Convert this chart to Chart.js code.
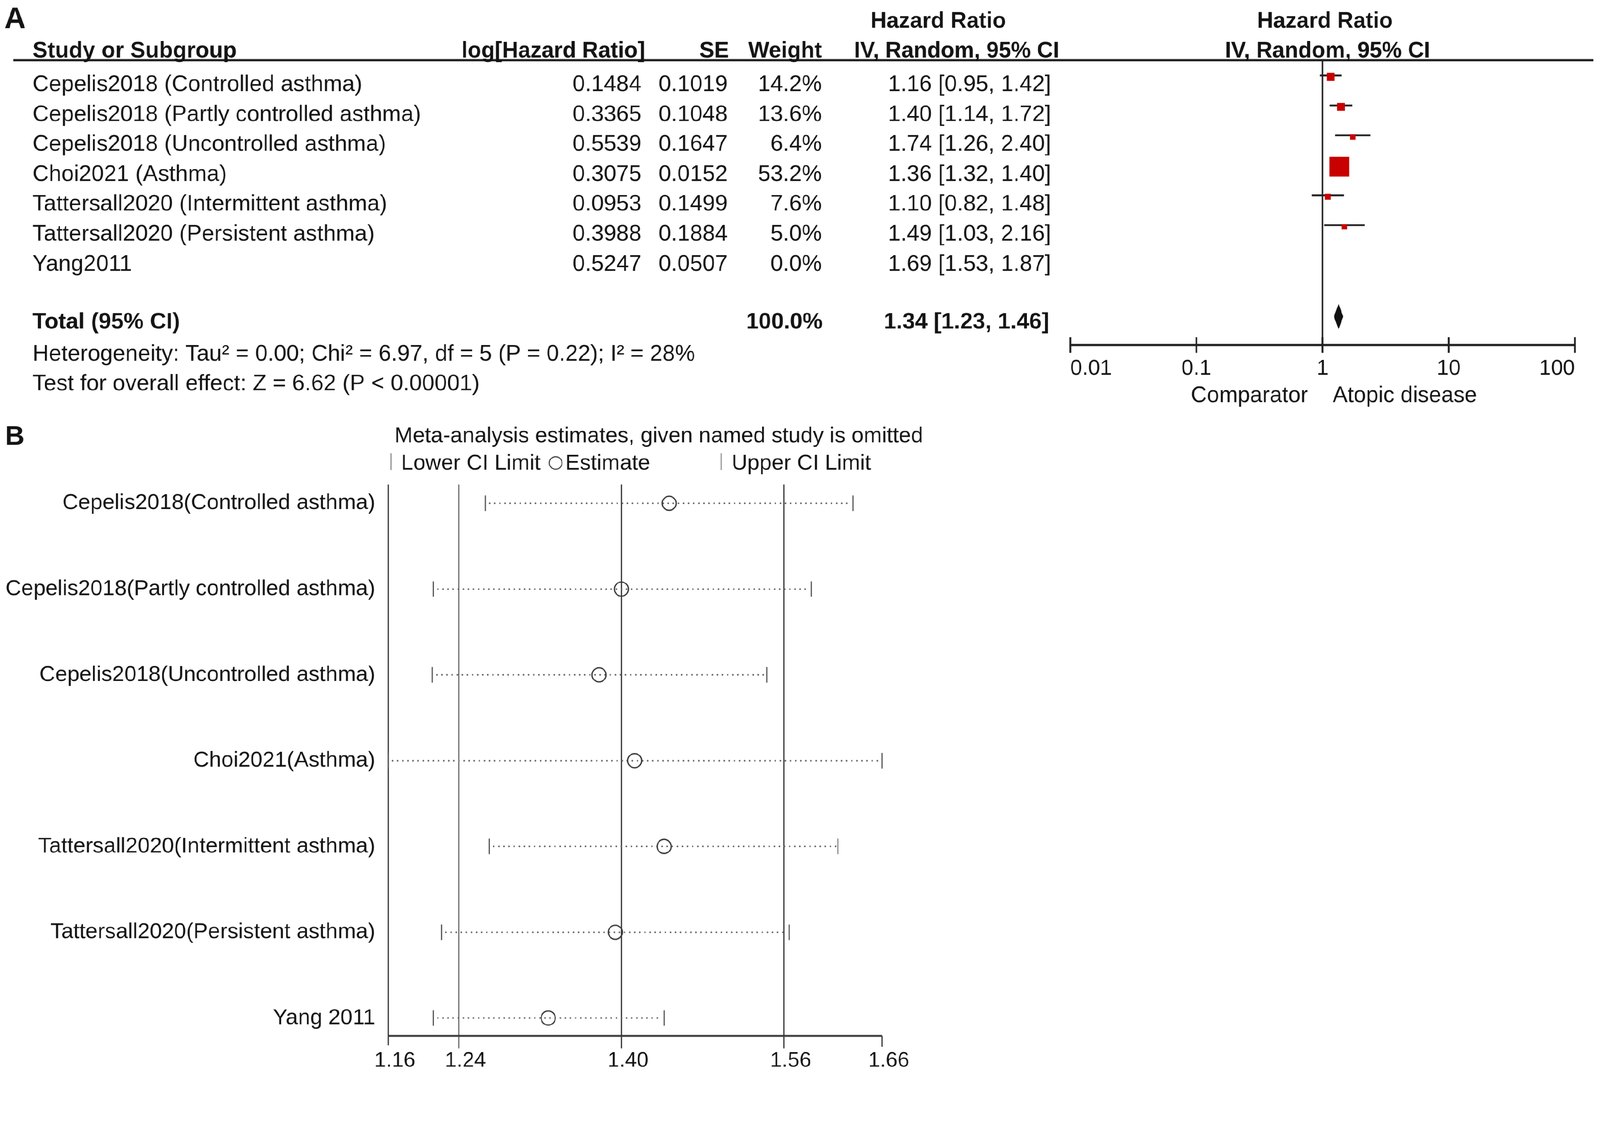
<!DOCTYPE html>
<html>
<head>
<meta charset="utf-8">
<script src="https://cdn.jsdelivr.net/npm/chart.js@4.4.1/dist/chart.umd.min.js"></script>
<style>
  html, body { margin: 0; padding: 0; background: #fff; overflow: hidden; }
  #page { position: absolute; left: 0; top: 0; width: 4328px; height: 2905px; transform-origin: 0 0; }
  #wrapA { position: absolute; left: 0; top: 0; width: 4328px; height: 1100px; }
  #wrapB { position: absolute; left: 0; top: 1100px; width: 4328px; height: 1805px; }
</style>
</head>
<body>
<div id="page">
  <div id="wrapA"><canvas id="forestChart" width="4328" height="1100"></canvas></div>
  <div id="wrapB"><canvas id="influenceChart" width="4328" height="1805"></canvas></div>
</div>
<script>
// ---- Panel A : forest plot ----
const studies = [
  "Cepelis2018 (Controlled asthma)",
  "Cepelis2018 (Partly controlled asthma)",
  "Cepelis2018 (Uncontrolled asthma)",
  "Choi2021 (Asthma)",
  "Tattersall2020 (Intermittent asthma)",
  "Tattersall2020 (Persistent asthma)",
  "Yang2011"
];
const logHR   = [0.1484, 0.3365, 0.5539, 0.3075, 0.0953, 0.3988, 0.5247];
const seLog   = [0.1019, 0.1048, 0.1647, 0.0152, 0.1499, 0.1884, 0.0507];
const weights = [14.2, 13.6, 6.4, 53.2, 7.6, 5.0, 0.0];
const hr      = [1.16, 1.40, 1.74, 1.36, 1.10, 1.49, 1.69];
const hrLow   = [0.95, 1.14, 1.26, 1.32, 0.82, 1.03, 1.53];
const hrHigh  = [1.42, 1.72, 2.40, 1.40, 1.48, 2.16, 1.87];
const totalHR = 1.34, totalLow = 1.23, totalHigh = 1.46, totalWeight = 100.0;
const tickValsA   = [0.01, 0.1, 1, 10, 100];
const tickLabelsA = ["0.01", "0.1", "1", "10", "100"];

// ---- Panel B : leave-one-out ----
const studiesB = [
  "Cepelis2018(Controlled asthma)",
  "Cepelis2018(Partly controlled asthma)",
  "Cepelis2018(Uncontrolled asthma)",
  "Choi2021(Asthma)",
  "Tattersall2020(Intermittent asthma)",
  "Tattersall2020(Persistent asthma)",
  "Yang 2011"
];
const estB   = [1.447, 1.400, 1.378, 1.413, 1.442, 1.394, 1.328];
const lowerB = [1.266, 1.215, 1.214, 1.1705, 1.270, 1.223, 1.215];
const upperB = [1.628, 1.587, 1.543, 1.6565, 1.613, 1.565, 1.442];
const tickValsB   = [1.1705, 1.24, 1.40, 1.56, 1.6565];
const tickLabelsB = ["1.16", "1.24", "1.40", "1.56", "1.66"];

const FONT = '"Liberation Sans", Arial, sans-serif';
const INK = '#141414';

// fit the 4328x2905 layout into whatever the viewport really is
const fit = Math.min(window.innerWidth / 4328, window.innerHeight / 2905);
document.getElementById('page').style.transform = 'scale(' + fit + ')';
const DPR = (window.devicePixelRatio || 1) * fit;

function txt(ctx, s, x, y, align, size, bold) {
  ctx.save();
  ctx.font = (bold ? 'bold ' : '') + size + 'px ' + FONT;
  ctx.fillStyle = INK;
  ctx.textAlign = align;
  ctx.textBaseline = 'alphabetic';
  ctx.fillText(s, x, y);
  ctx.restore();
}
function seg(ctx, x1, y1, x2, y2, w, color) {
  ctx.beginPath();
  ctx.lineWidth = w;
  ctx.strokeStyle = color;
  ctx.moveTo(x1, y1);
  ctx.lineTo(x2, y2);
  ctx.stroke();
}

const forestDecor = {
  id: 'forestDecor',
  beforeDatasetsDraw(chart) {
    const { ctx, chartArea, scales: { x, y } } = chart;
    ctx.save();
    // header rule
    seg(ctx, 36, chartArea.top, 4310, chartArea.top, 6, '#222');
    // line of no effect
    seg(ctx, x.getPixelForValue(1), chartArea.top, x.getPixelForValue(1), chartArea.bottom, 4, '#222');
    // confidence intervals
    studies.forEach((s, i) => {
      if (weights[i] <= 0) return;
      const py = y.getPixelForValue(i) - 4;
      seg(ctx, x.getPixelForValue(hrLow[i]), py, x.getPixelForValue(hrHigh[i]), py, 5, '#222');
    });
    // pooled diamond
    const dy = y.getPixelForValue(8);
    ctx.beginPath();
    ctx.moveTo(x.getPixelForValue(totalLow), dy);
    ctx.lineTo(x.getPixelForValue(totalHR), dy - 34);
    ctx.lineTo(x.getPixelForValue(totalHigh), dy);
    ctx.lineTo(x.getPixelForValue(totalHR), dy + 34);
    ctx.closePath();
    ctx.fillStyle = '#111';
    ctx.fill();
    // axis with ticks
    const ab = chartArea.bottom;
    seg(ctx, x.getPixelForValue(tickValsA[0]), ab, x.getPixelForValue(tickValsA[tickValsA.length - 1]), ab, 6, '#222');
    tickValsA.forEach(v => {
      const px = x.getPixelForValue(v);
      seg(ctx, px, ab - 21, px, ab + 21, 5, '#222');
    });
    ctx.restore();
  },
  afterDraw(chart) {
    const { ctx, scales: { y } } = chart;
    txt(ctx, 'A', 12, 76, 'left', 80, true);
    txt(ctx, 'Hazard Ratio', 2538, 75, 'center', 60, true);
    txt(ctx, 'Hazard Ratio', 3584, 75, 'center', 60, true);
    txt(ctx, 'Study or Subgroup', 88, 155, 'left', 61, true);
    txt(ctx, 'log[Hazard Ratio]', 1745, 155, 'right', 60, true);
    txt(ctx, 'SE', 1972, 155, 'right', 60, true);
    txt(ctx, 'Weight', 2223, 155, 'right', 60, true);
    txt(ctx, 'IV, Random, 95% CI', 2865, 155, 'right', 60, true);
    txt(ctx, 'IV, Random, 95% CI', 3591, 155, 'center', 60, true);
    studies.forEach((s, i) => {
      const by = y.getPixelForValue(i) + 38;
      txt(ctx, s, 88, by, 'left', 61, false);
      txt(ctx, logHR[i].toFixed(4), 1735, by, 'right', 61, false);
      txt(ctx, seLog[i].toFixed(4), 1968, by, 'right', 61, false);
      txt(ctx, weights[i].toFixed(1) + '%', 2223, by, 'right', 61, false);
      txt(ctx, hr[i].toFixed(2) + ' [' + hrLow[i].toFixed(2) + ', ' + hrHigh[i].toFixed(2) + ']', 2843, by, 'right', 61, false);
    });
    const ty = y.getPixelForValue(8) + 33;
    txt(ctx, 'Total (95% CI)', 88, ty, 'left', 61, true);
    txt(ctx, totalWeight.toFixed(1) + '%', 2225, ty, 'right', 61, true);
    txt(ctx, totalHR.toFixed(2) + ' [' + totalLow.toFixed(2) + ', ' + totalHigh.toFixed(2) + ']', 2838, ty, 'right', 61, true);
    txt(ctx, 'Heterogeneity: Tau\u00b2 = 0.00; Chi\u00b2 = 6.97, df = 5 (P = 0.22); I\u00b2 = 28%', 88, y.getPixelForValue(9) + 38, 'left', 61, false);
    txt(ctx, 'Test for overall effect: Z = 6.62 (P < 0.00001)', 88, y.getPixelForValue(10) + 38, 'left', 61, false);
    txt(ctx, 'Comparator', 3538, 1087, 'right', 60, false);
    txt(ctx, 'Atopic disease', 3605, 1087, 'left', 60, false);
  }
};

new Chart(document.getElementById('forestChart'), {
  type: 'scatter',
  data: {
    datasets: [{
      data: studies.map((s, i) => ({ x: hr[i], y: i })),
      pointStyle: 'rect',
      pointRadius: weights.map(w => w > 0 ? (10 + 0.82 * w) / 1.414 : 0),
      backgroundColor: '#c80000',
      borderWidth: 0
    }]
  },
  options: {
    responsive: false,
    devicePixelRatio: DPR,
    animation: false,
    layout: { padding: { left: 2895, right: 68, top: 163, bottom: 0 } },
    plugins: { legend: { display: false }, tooltip: { enabled: false } },
    scales: {
      x: {
        type: 'logarithmic',
        min: 0.01,
        max: 100,
        afterBuildTicks: s => { s.ticks = tickValsA.map(v => ({ value: v })); },
        afterFit: s => { s.height = 167; },
        ticks: {
          callback: (v, i) => tickLabelsA[i],
          font: { size: 58, family: FONT },
          color: INK,
          padding: 30,
          align: 'inner',
          maxRotation: 0,
          autoSkip: false
        },
        grid: { display: false, drawTicks: false },
        border: { display: false }
      },
      y: { type: 'linear', reverse: true, min: -0.556, max: 8.95, display: false }
    }
  },
  plugins: [forestDecor]
});

const influenceDecor = {
  id: 'influenceDecor',
  beforeDatasetsDraw(chart) {
    const { ctx, chartArea, scales: { x, y } } = chart;
    const top = chartArea.top, bot = chartArea.bottom;
    ctx.save();
    // reference lines at pooled lower CI, estimate, upper CI
    [1, 2, 3].forEach(k => {
      const px = x.getPixelForValue(tickValsB[k]);
      seg(ctx, px, top, px, bot + 34, 3, '#2a2a2a');
    });
    const pl = x.getPixelForValue(tickValsB[0]);
    const pr = x.getPixelForValue(tickValsB[4]);
    seg(ctx, pl, top, pl, bot + 26, 3, '#2a2a2a');
    seg(ctx, pr, bot, pr, bot + 30, 3, '#2a2a2a');
    seg(ctx, pl, bot, pr, bot, 5, '#3a3a3a');
    // dotted CI lines with end caps
    studiesB.forEach((s, i) => {
      const py = y.getPixelForValue(i);
      const a = x.getPixelForValue(lowerB[i]);
      const b = x.getPixelForValue(upperB[i]);
      ctx.save();
      ctx.setLineDash([0.1, 13.7]);
      ctx.lineCap = 'round';
      seg(ctx, a + 12, py, b - 6, py, 4.5, '#606060');
      ctx.restore();
      seg(ctx, a, py - 21, a, py + 21, 3, '#505050');
      seg(ctx, b, py - 21, b, py + 21, 3, '#505050');
    });
    ctx.restore();
  },
  afterDraw(chart) {
    const { ctx } = chart;
    txt(ctx, 'B', 14, 103, 'left', 72, true);
    txt(ctx, 'Meta-analysis estimates, given named study is omitted', 1782, 96, 'center', 59, false);
    ctx.save();
    seg(ctx, 1058, 126, 1058, 171, 2, '#555');
    seg(ctx, 1951, 126, 1951, 171, 2, '#555');
    ctx.beginPath();
    ctx.lineWidth = 3;
    ctx.strokeStyle = '#444';
    ctx.arc(1503, 152, 17, 0, Math.PI * 2);
    ctx.stroke();
    ctx.restore();
    txt(ctx, 'Lower CI Limit', 1085, 170, 'left', 59, false);
    txt(ctx, 'Estimate', 1529, 170, 'left', 59, false);
    txt(ctx, 'Upper CI Limit', 1979, 170, 'left', 59, false);
  }
};

new Chart(document.getElementById('influenceChart'), {
  type: 'scatter',
  data: {
    datasets: [{
      data: estB.map((v, i) => ({ x: v, y: i })),
      pointStyle: 'circle',
      pointRadius: 19,
      borderWidth: 3.5,
      borderColor: '#3a3a3a',
      backgroundColor: 'rgba(0,0,0,0)'
    }]
  },
  options: {
    responsive: false,
    devicePixelRatio: DPR,
    animation: false,
    layout: { padding: { left: 0, right: 1942, top: 210, bottom: 0 } },
    plugins: { legend: { display: false }, tooltip: { enabled: false } },
    scales: {
      x: {
        type: 'linear',
        min: tickValsB[0],
        max: tickValsB[tickValsB.length - 1],
        afterBuildTicks: s => { s.ticks = tickValsB.map(v => ({ value: v })); },
        afterFit: s => { s.height = 104; },
        ticks: {
          callback: (v, i) => tickLabelsB[i],
          font: { size: 57, family: FONT },
          color: INK,
          padding: 34,
          labelOffset: 18,
          maxRotation: 0,
          autoSkip: false
        },
        grid: { display: false, drawTicks: false },
        border: { display: false }
      },
      y: {
        type: 'linear',
        reverse: true,
        min: -0.22,
        max: 6.207,
        afterBuildTicks: s => { s.ticks = studiesB.map((n, i) => ({ value: i })); },
        afterFit: s => { s.width = 1050; },
        ticks: {
          callback: v => studiesB[v],
          font: { size: 59, family: FONT },
          color: INK,
          padding: 35,
          autoSkip: false
        },
        grid: { display: false, drawTicks: false },
        border: { display: false }
      }
    }
  },
  plugins: [influenceDecor]
});
</script>
</body>
</html>
